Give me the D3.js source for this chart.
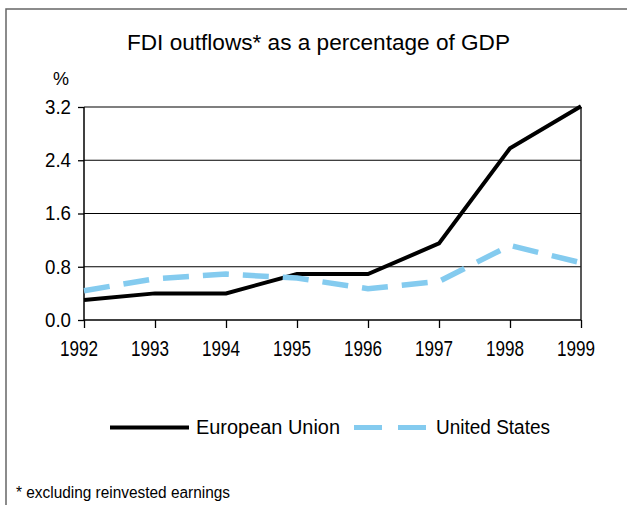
<!DOCTYPE html>
<html>
<head>
<meta charset="utf-8">
<script src="https://cdn.jsdelivr.net/npm/d3@7"></script>
<style>
  body { margin: 0; background: #fff; }
  text { font-family: "Liberation Sans", Arial, sans-serif; fill: #000; }
</style>
</head>
<body>
<svg id="chart" width="627" height="505"></svg>
<script>
const years = [1992, 1993, 1994, 1995, 1996, 1997, 1998, 1999];
const euValues = [0.30, 0.40, 0.40, 0.69, 0.69, 1.15, 2.58, 3.21];
const usValues = [0.44, 0.62, 0.69, 0.63, 0.47, 0.58, 1.12, 0.86];
const yTicks = [0, 0.8, 1.6, 2.4, 3.2];

const series = [
  { name: "European Union", values: euValues, color: "#000", width: 4, dash: null },
  { name: "United States", values: usValues, color: "#84CBEF", width: 5.5, dash: "26,14" }
];

const svg = d3.select("#chart");

// outer frame (open to the right and bottom)
svg.append("path")
  .attr("d", "M6,505 V9 H627")
  .attr("fill", "none")
  .attr("stroke", "#666")
  .attr("stroke-width", 1.5);

svg.append("text")
  .attr("x", 127)
  .attr("y", 50)
  .attr("font-size", 22)
  .attr("textLength", 383)
  .attr("lengthAdjust", "spacingAndGlyphs")
  .text("FDI outflows* as a percentage of GDP");

svg.append("text")
  .attr("x", 61)
  .attr("y", 85)
  .attr("text-anchor", "middle")
  .attr("font-size", 18)
  .text("%");

const x = d3.scalePoint().domain(years).range([84, 581]);
const y = d3.scaleLinear().domain([0, 3.2]).range([320, 107]);

const g = svg.append("g");

// horizontal gridlines
g.selectAll("line.grid")
  .data(yTicks.slice(1))
  .join("line")
  .attr("class", "grid")
  .attr("x1", 84).attr("x2", 581)
  .attr("y1", d => y(d)).attr("y2", d => y(d))
  .attr("stroke", "#000")
  .attr("stroke-width", 1.2);

// right edge of the plot box
g.append("line")
  .attr("x1", 581).attr("x2", 581)
  .attr("y1", y(3.2)).attr("y2", 320)
  .attr("stroke", "#222")
  .attr("stroke-width", 1.5);

const yAxis = g.append("g")
  .attr("transform", "translate(84,0)")
  .call(d3.axisLeft(y).tickValues(yTicks).tickFormat(d3.format(".1f")).tickSize(6).tickPadding(7));

const xAxis = g.append("g")
  .attr("transform", "translate(0,320)")
  .call(d3.axisBottom(x).tickSize(8).tickPadding(12.5));

[yAxis, xAxis].forEach(a => {
  a.attr("font-family", null).attr("font-size", null);
  a.select(".domain").attr("stroke", "#000").attr("stroke-width", 1.5);
  a.selectAll(".tick line").attr("stroke", "#000").attr("stroke-width", 1.3);
  a.selectAll(".tick text")
    .attr("lengthAdjust", "spacingAndGlyphs")
    .attr("fill", "#000");
});
// condensed tick labels
xAxis.selectAll(".tick text").attr("font-size", 22).attr("dx", -5.5).attr("textLength", 38);
yAxis.selectAll(".tick text").attr("font-size", 20).attr("textLength", 26);
xAxis.select(".domain").attr("d", "M84,0H581");
yAxis.select(".domain").attr("d", `M0,${y(3.2)}V320`);

const line = d3.line()
  .x((d, i) => x(years[i]))
  .y(d => y(d));

g.selectAll("path.series")
  .data(series)
  .join("path")
  .attr("class", "series")
  .attr("d", d => line(d.values))
  .attr("fill", "none")
  .attr("stroke", d => d.color)
  .attr("stroke-width", d => d.width)
  .attr("stroke-dasharray", d => d.dash)
  .attr("stroke-linejoin", "miter");

// legend
const legendPos = [
  { x: 110, len: 79, textX: 86, textLen: 144, dash: null },
  { x: 354, len: 72, textX: 82, textLen: 114, dash: "28,16" }
];
const legendItems = svg.append("g")
  .selectAll("g")
  .data(series)
  .join("g")
  .attr("transform", (d, i) => `translate(${legendPos[i].x},427.5)`);

legendItems.append("line")
  .attr("x1", 0)
  .attr("x2", (d, i) => legendPos[i].len)
  .attr("stroke", d => d.color)
  .attr("stroke-width", (d, i) => i === 0 ? 4 : 5)
  .attr("stroke-dasharray", (d, i) => legendPos[i].dash);

legendItems.append("text")
  .attr("x", (d, i) => legendPos[i].textX)
  .attr("y", 6.5)
  .attr("font-size", 20)
  .attr("textLength", (d, i) => legendPos[i].textLen)
  .attr("lengthAdjust", "spacingAndGlyphs")
  .attr("fill", "#222")
  .text(d => d.name);

svg.append("text")
  .attr("x", 16)
  .attr("y", 498)
  .attr("font-size", 16)
  .attr("textLength", 214)
  .attr("lengthAdjust", "spacingAndGlyphs")
  .attr("fill", "#222")
  .text("* excluding reinvested earnings");
</script>
</body>
</html>
